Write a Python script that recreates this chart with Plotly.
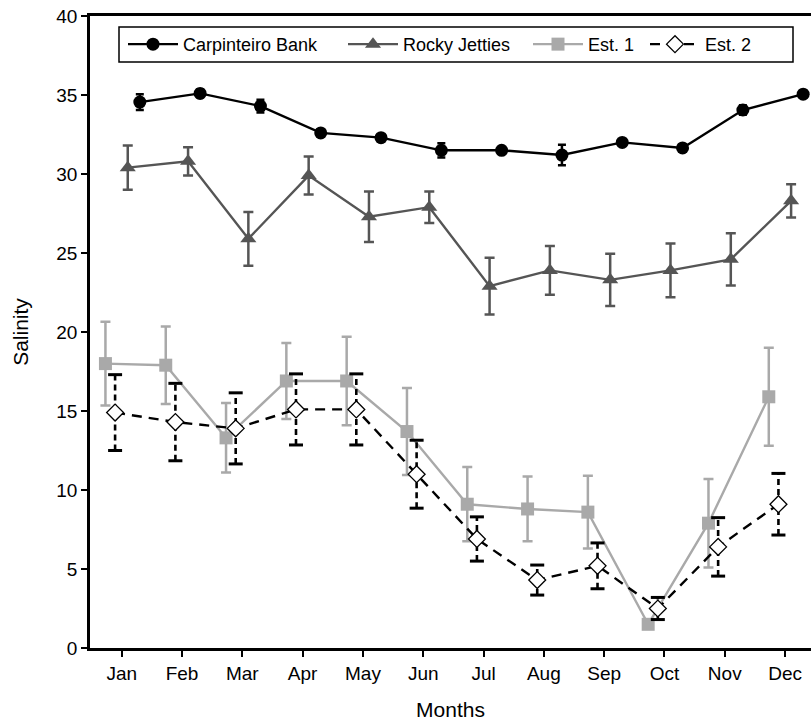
import plotly.graph_objects as go

months = ["Jan", "Feb", "Mar", "Apr", "May", "Jun", "Jul", "Aug", "Sep", "Oct", "Nov", "Dec"]

carp = [34.55, 35.1, 34.3, 32.6, 32.3, 31.5, 31.5, 31.2, 32.0, 31.65, 34.05, 35.05]
carp_err = [0.5, 0.25, 0.4, 0.2, 0.2, 0.45, 0.2, 0.65, 0.2, 0.2, 0.3, 0.2]

rocky = [30.4, 30.8, 25.9, 29.9, 27.3, 27.9, 22.9, 23.9, 23.3, 23.9, 24.6, 28.3]
rocky_err = [1.4, 0.9, 1.7, 1.2, 1.6, 1.0, 1.8, 1.55, 1.65, 1.7, 1.65, 1.05]

est1 = [18.0, 17.9, 13.3, 16.9, 16.9, 13.7, 9.1, 8.8, 8.6, 1.5, 7.9, 15.9]
est1_err = [2.65, 2.45, 2.2, 2.4, 2.8, 2.75, 2.35, 2.05, 2.3, 0.15, 2.8, 3.1]

est2 = [14.9, 14.3, 13.9, 15.1, 15.1, 11.0, 6.9, 4.3, 5.2, 2.5, 6.4, 9.1]
est2_err = [2.4, 2.45, 2.25, 2.25, 2.25, 2.15, 1.4, 0.95, 1.45, 0.7, 1.85, 1.95]

# horizontal offsets (category units) of each series
off_carp, off_rocky, off_est1, off_est2 = 0.30, 0.10, -0.27, -0.11

idx = list(range(len(months)))
FONT = "Liberation Sans, Arial, sans-serif"

fig = go.Figure()

# Est. 1
fig.add_trace(go.Scatter(
    x=[i + off_est1 for i in idx], y=est1, name="Est. 1", mode="lines+markers",
    line=dict(color="#a9a9a9", width=2.4),
    marker=dict(symbol="square", size=13, color="#a9a9a9"),
    error_y=dict(type="data", array=est1_err, color="#a9a9a9", thickness=2.5, width=5),
    legend="legend3",
))

# Est. 2 dashed error bars drawn as line segments
ex, ey = [], []
for i, v, e in zip(idx, est2, est2_err):
    ex += [i + off_est2, i + off_est2, None]
    ey += [v - e, v + e, None]
fig.add_trace(go.Scatter(x=ex, y=ey, mode="lines", showlegend=False, hoverinfo="skip",
                         line=dict(color="black", width=2.6, dash="6px,4px")))
fig.add_trace(go.Scatter(
    x=[i + off_est2 for i in idx] * 2,
    y=[v + e for v, e in zip(est2, est2_err)] + [v - e for v, e in zip(est2, est2_err)],
    mode="markers", showlegend=False, hoverinfo="skip",
    marker=dict(symbol="line-ew-open", size=10, color="black",
                line=dict(color="black", width=3))))

fig.add_trace(go.Scatter(
    x=[i + off_est2 for i in idx], y=est2, name="Est. 2", mode="lines+markers",
    line=dict(color="black", width=2.4, dash="10px,7px"),
    marker=dict(symbol="diamond", size=13, color="white", line=dict(color="black", width=1.3)),
    legend="legend4",
))

# Rocky Jetties
fig.add_trace(go.Scatter(
    x=[i + off_rocky for i in idx], y=rocky, name="Rocky Jetties", mode="lines+markers",
    line=dict(color="#555555", width=2.4),
    marker=dict(symbol="triangle-up", size=14, color="#555555"),
    error_y=dict(type="data", array=rocky_err, color="#555555", thickness=2.5, width=5),
    legend="legend2",
))

# Carpinteiro Bank
fig.add_trace(go.Scatter(
    x=[i + off_carp for i in idx], y=carp, name="Carpinteiro Bank", mode="lines+markers",
    line=dict(color="black", width=2.4),
    marker=dict(symbol="circle", size=13, color="black"),
    error_y=dict(type="data", array=carp_err, color="black", thickness=2.5, width=4),
    legend="legend",
))

PL, PW = 90, 721  # plot left / width in px


def lx(px):
    return (px - PL) / PW


leg_common = dict(orientation="h", y=0.955, xanchor="left", yanchor="middle",
                  borderwidth=0, bgcolor="rgba(0,0,0,0)", font=dict(size=18), itemwidth=50)

fig.update_layout(
    width=811, height=727,
    margin=dict(l=PL, r=0, t=16, b=79),
    plot_bgcolor="white", paper_bgcolor="white",
    font=dict(family=FONT, size=17, color="black"),
    showlegend=True,
    legend=dict(x=lx(123), **leg_common),
    legend2=dict(x=lx(343), **leg_common),
    legend3=dict(x=lx(528), **leg_common),
    legend4=dict(x=lx(645), **leg_common),
    shapes=[dict(type="rect", xref="paper", yref="paper",
                 x0=lx(119), x1=lx(793), y0=(648 - 62) / 632, y1=(648 - 27) / 632,
                 line=dict(color="black", width=1.5), fillcolor="white", layer="above")],
    xaxis=dict(range=[-0.526, 11.43], tickvals=idx, ticktext=months, automargin=False,
               showline=True, linecolor="black", linewidth=2.5, mirror=True,
               ticks="outside", ticklen=6, tickwidth=2, tickcolor="black",
               showgrid=False, zeroline=False,
               title=dict(text="Months", font=dict(size=21), standoff=20),
               tickfont=dict(size=19)),
    yaxis=dict(range=[0, 40], dtick=5, automargin=False,
               showline=True, linecolor="black", linewidth=2.5, mirror=False,
               ticks="outside", ticklen=6, tickwidth=2, tickcolor="black",
               showgrid=False, zeroline=False,
               title=dict(text="Salinity", font=dict(size=21), standoff=22),
               tickfont=dict(size=19)),
)

fig.write_html("out.html", config={"displayModeBar": False},
               post_script="document.body.style.margin='0';")
